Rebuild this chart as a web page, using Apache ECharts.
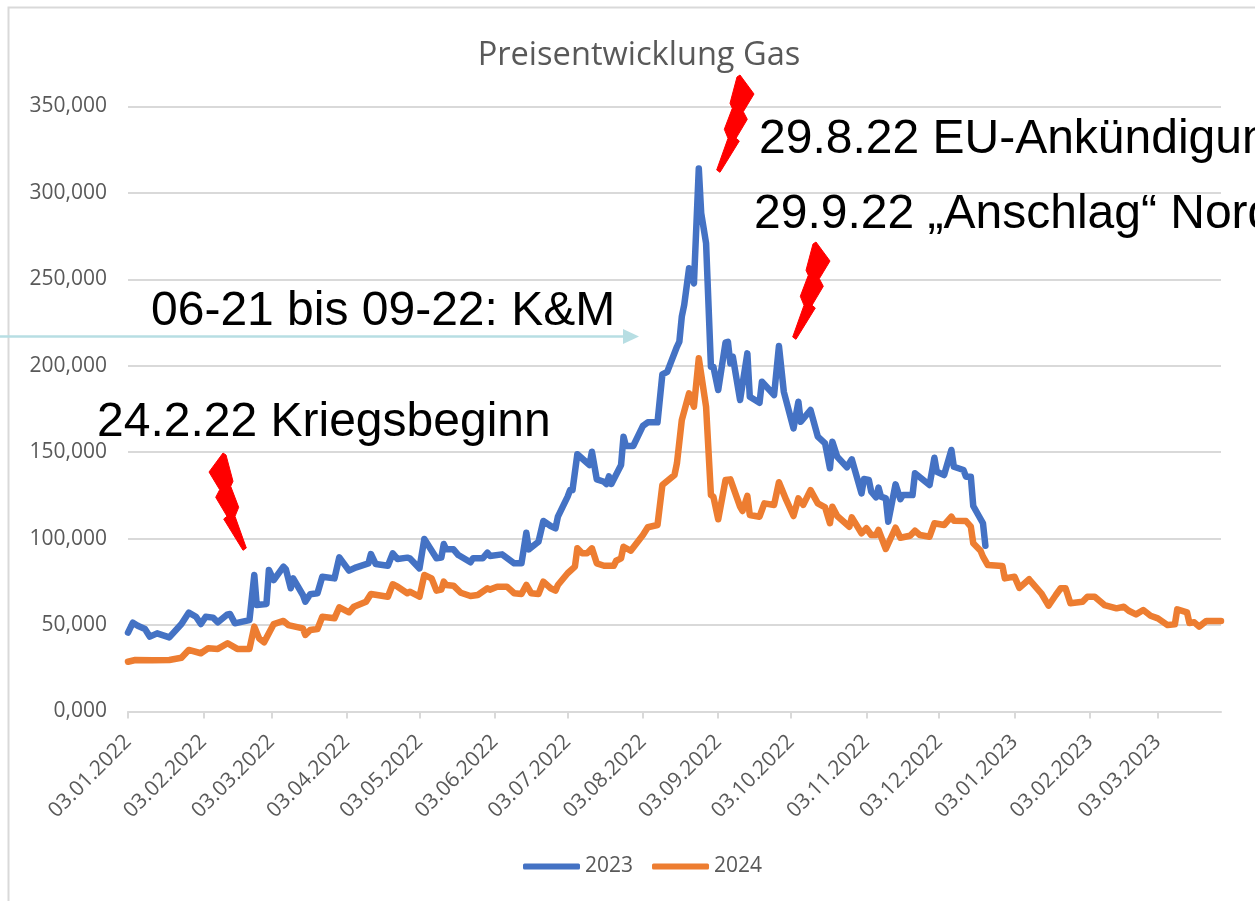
<!DOCTYPE html>
<html>
<head>
<meta charset="utf-8">
<title>Preisentwicklung Gas</title>
<style>
html, body { margin: 0; padding: 0; background: #fff; overflow: hidden; }
#chart { width: 1255px; height: 901px; }
</style>
<script src="https://cdn.jsdelivr.net/npm/echarts@6/dist/echarts.min.js"></script>
</head>
<body>
<div id="chart"></div>
<script>
var days2023 = [0,2,4,7,9,12,17,22,25,28,30,32,35,37,41,42,44,50,52,53,57,58,60,64,65,67,68,72,73,75,78,80,85,87,91,94,99,100,102,107,109,111,115,116,120,122,127,129,130,131,134,136,141,142,146,148,149,154,159,162,164,165,169,171,174,176,177,181,182,183,185,190,191,193,196,197,198,199,203,204,205,208,212,214,218,220,222,226,227,228,229,231,233,235,236,238,240,241,243,246,247,248,249,252,255,256,260,261,266,268,270,274,276,277,281,284,287,289,290,292,296,298,302,303,305,306,308,309,310,312,313,316,318,319,323,324,330,332,333,336,339,340,344,345,347,348,352,353];
var values2023 = [45.6,51.4,49.6,47.7,43.3,45.2,42.9,50.6,57.2,54.8,50.6,54.8,54.3,51.6,56.2,56.4,51,52.9,79,61.6,62.2,81.9,76,83.8,82.3,71.3,77,67.4,63.5,67.8,68.4,78,77,89.2,81.5,83.4,85.7,91.1,85.3,84.3,91.5,88.2,89,88.6,82.8,99.8,88.6,89,96.9,93.8,93.8,90.5,86.3,88.6,88.6,91.9,90,90.9,85.7,85.7,103.4,93.8,98.2,110.2,107.3,106,112.7,124.3,128.1,128.1,148.8,142.6,150.3,134.3,132.9,131.6,136,131.6,142.6,159,153.6,153.6,165.2,167.3,167.3,195,196.5,211,214,228.4,235.2,256.4,247.7,314.2,288.2,270.9,199.5,199.5,186,213.4,213.9,201.4,205.3,180.2,207.2,182.1,178.6,190.8,183.1,211.4,185,163.8,179.2,167.6,174.4,159,155.1,140.7,156,147.4,141.3,145.9,126.2,134.5,134,127.2,123.9,129.5,124.3,123.3,109.8,131.4,122.8,125.2,125.2,137.8,131,146.8,138.7,136.8,151.3,141.6,139.7,135.8,135.8,118.9,108.9,95.9];

var days2024 = [0,3,10,17,22,25,30,33,37,41,45,50,52,54,56,60,64,66,72,73,75,78,80,85,87,91,93,98,100,107,109,111,115,116,120,122,125,127,129,130,131,134,137,141,144,148,149,152,156,159,162,164,166,169,171,174,176,177,181,184,185,187,189,191,193,196,200,201,203,204,207,212,214,218,220,225,226,228,231,233,235,238,240,241,243,246,248,252,253,255,256,260,262,266,268,271,274,276,278,281,284,287,289,290,292,297,298,302,304,306,308,309,312,316,318,322,324,326,330,332,336,339,340,345,347,348,351,352,354,360,361,365,367,371,376,379,382,384,386,388,393,395,398,402,407,410,412,415,418,421,424,428,431,432,436,437,439,441,444,450];
var values2024 = [28.8,29.8,29.6,29.8,31.1,35.6,33.7,36.6,36.2,39.5,36.2,36.2,49.1,42.3,40,50.6,52.4,50,48.1,44.3,47.1,47.7,54.8,53.9,60.3,57.4,60.6,63.5,68,66.4,73.6,72.2,68.4,69.3,66.4,79,77,69.9,70.5,75.1,73.2,72.8,68.7,66.8,67.4,71.3,70.5,72.2,72.2,68.4,68,73.2,68.4,68,75.1,71.3,69.9,73.2,80,83.8,94.4,91.5,91.5,94.4,85.7,84.3,84.3,87.2,88.6,95.3,93,102.1,106.6,107.9,131,136.8,143.6,168.6,184,176.3,204.3,176.3,125.2,124.3,111.2,133.9,134.3,118.5,116,124.7,113.7,112.7,120.4,119.5,132.6,122.4,113.1,123.3,119.5,128.1,120.4,118.1,108.9,118.5,113.1,106.9,112.3,103.1,106,102.1,102.1,105,94,106.3,100.5,101.7,104.6,102.1,101.1,108.9,107.9,112.7,110.4,110.2,106.9,97.3,93,89.6,84.7,84.2,77,78,71.5,76.5,68.4,61.2,67.4,71.3,71.3,62.6,63.5,66.4,66.4,61.6,59.7,60.6,58.3,56.2,58.7,55.4,53.9,50,50.4,59.1,57.4,51.2,51.6,49.1,52.4,52.4];

var tickDates = ['2022-01-03','2022-02-03','2022-03-03','2022-04-03','2022-05-03','2022-06-03','2022-07-03','2022-08-03','2022-09-03','2022-10-03','2022-11-03','2022-12-03','2023-01-03','2023-02-03','2023-03-03'];
var seriesNames = ['2023', '2024'];
var seriesColors = ['#4472C4', '#ED7D31'];
var lastDay = 450;

var startTime = new Date(2022, 0, 3).getTime();
var DAY = 24 * 3600 * 1000;

function toPoints(days, values) {
    return days.map(function (d, i) {
        return [startTime + d * DAY, values[i]];
    });
}

var tickTimes = tickDates.map(function (s) {
    var p = s.split('-');
    return new Date(+p[0], +p[1] - 1, +p[2]).getTime();
});

// Blitz, Umriss einmal, dreimal verschoben bzw. gespiegelt
var boltShape = [[737,77],[740,75],[754,94],[743.3,111.7],[747.3,119.3],[736,138.3],[739.3,141],[720,172.3],[716.7,170],[728,138.3],[724.3,129.3],[732.3,108.3],[730,103.3]];
function bolt(dx, dy, mirror) {
    return {
        type: 'polygon',
        shape: {
            points: boltShape.map(function (p) {
                return [mirror ? mirror - p[0] : p[0] + dx, p[1] + dy];
            })
        },
        style: { fill: '#FF0000', stroke: '#FF0000', lineWidth: 1, lineJoin: 'round' },
        z: 20
    };
}

function note(text, x, y) {
    return {
        type: 'text',
        x: x,
        y: y,
        style: {
            text: text,
            fill: '#000000',
            font: '48px "Liberation Sans", Arial, sans-serif',
            textVerticalAlign: 'middle'
        },
        z: 21
    };
}

var myChart = echarts.init(document.getElementById('chart'), null, { renderer: 'canvas' });

var option = {
    animation: false,
    backgroundColor: '#ffffff',
    title: {
        text: 'Preisentwicklung Gas',
        left: 634,
        textAlign: 'center',
        top: 34,
        textStyle: { color: '#595959', fontSize: 32.6, fontWeight: 'normal', fontFamily: 'Open Sans' }
    },
    legend: {
        top: 856,
        left: 523,
        padding: 0,
        itemWidth: 57,
        itemHeight: 6,
        itemGap: 19,
        icon: 'roundRect',
        textStyle: { color: '#595959', fontSize: 21, fontFamily: 'Open Sans' },
        data: seriesNames
    },
    grid: { left: 128, right: 34, top: 106.5, bottom: 189.5, containLabel: false },
    xAxis: {
        type: 'value',
        min: startTime,
        max: startTime + lastDay * DAY,
        axisLine: { show: true, onZero: false, lineStyle: { color: '#D9D9D9', width: 2 } },
        axisTick: { show: true, length: 7, customValues: tickTimes, lineStyle: { color: '#D9D9D9', width: 2 } },
        splitLine: { show: false },
        axisLabel: {
            customValues: tickTimes,
            rotate: 45,
            margin: 27,
            color: '#595959',
            fontSize: 21,
            fontFamily: 'Open Sans',
            hideOverlap: false,
            formatter: function (v) {
                return echarts.time.format(v, '{dd}.{MM}.{yyyy}', false);
            }
        }
    },
    yAxis: {
        type: 'value',
        min: 0,
        max: 350,
        interval: 50,
        axisLine: { show: false },
        axisTick: { show: false },
        splitLine: { lineStyle: { color: '#D9D9D9', width: 2 } },
        axisLabel: {
            margin: 21,
            color: '#595959',
            fontSize: 21,
            fontFamily: 'Open Sans',
            formatter: function (v) {
                return v.toFixed(3).replace('.', ',');
            }
        }
    },
    series: [
        {
            name: seriesNames[0],
            type: 'line',
            showSymbol: false,
            smooth: false,
            z: 3,
            data: toPoints(days2023, values2023),
            itemStyle: { color: seriesColors[0] },
            lineStyle: { color: seriesColors[0], width: 6.5, cap: 'round', join: 'round' }
        },
        {
            name: seriesNames[1],
            type: 'line',
            showSymbol: false,
            smooth: false,
            z: 4,
            data: toPoints(days2024, values2024),
            itemStyle: { color: seriesColors[1] },
            lineStyle: { color: seriesColors[1], width: 6.5, cap: 'round', join: 'round' }
        }
    ],
    graphic: [
        // Rahmen
        { type: 'polyline', shape: { points: [[8.5, 901], [8.5, 7.5], [1255, 7.5]] }, style: { stroke: '#D9D9D9', lineWidth: 2, fill: null }, z: 0 },
        // Pfeil K&M
        { type: 'line', shape: { x1: 0, y1: 336.5, x2: 624, y2: 336.5 }, style: { stroke: '#B7DEE3', lineWidth: 2.5 }, z: 10 },
        { type: 'polygon', shape: { points: [[623, 329], [639, 336.5], [623, 344]] }, style: { fill: '#B7DEE3' }, z: 10 },
        bolt(0, 0),
        bolt(76, 167),
        bolt(0, 378, 963),
        note('29.8.22 EU-Ankündigung', 759, 140),
        note('29.9.22 „Anschlag“ Nord', 754, 215),
        note('06-21 bis 09-22: K&M', 151, 312),
        note('24.2.22 Kriegsbeginn', 97, 423)
    ]
};

if (option && typeof option === "object") {
    myChart.setOption(option, true);
}
</script>
</body>
</html>
